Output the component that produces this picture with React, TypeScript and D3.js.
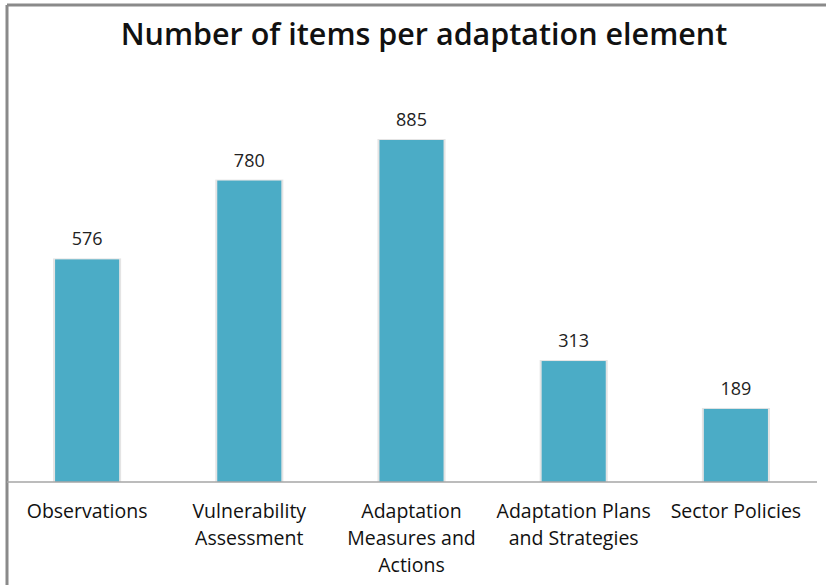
import React from 'react';
import * as d3 from 'd3';

const categories = [
  'Observations',
  'Vulnerability Assessment',
  'Adaptation Measures and Actions',
  'Adaptation Plans and Strategies',
  'Sector Policies',
];
// how each category label wraps under the axis
const categoryLines = [
  ['Observations'],
  ['Vulnerability', 'Assessment'],
  ['Adaptation', 'Measures and', 'Actions'],
  ['Adaptation Plans', 'and Strategies'],
  ['Sector Policies'],
];
const itemCounts = [576, 780, 885, 313, 189];

const title = 'Number of items per adaptation element';

const width = 826;
const height = 585;
const baseline = 482;

const App: React.FC = () => {
  const x = d3.scaleBand<string>()
    .domain(categories)
    .range([6, 817])
    .paddingInner(0.605)
    .paddingOuter(0.3025);

  const y = d3.scaleLinear()
    .domain([0, d3.max(itemCounts) || 0])
    .range([baseline, 140]);

  const font = '"Open Sans", "DejaVu Sans", sans-serif';

  return (
    <svg
      width={width}
      height={height}
      style={{ position: 'absolute', left: 0, top: 0, background: '#fff' }}
      fontFamily={font}
    >
      {/* frame, only top and left are visible */}
      <line x1={7} x2={width} y1={5} y2={5} stroke="#8a8a8a" strokeWidth={3} />
      <line x1={7} x2={7} y1={5} y2={height} stroke="#8a8a8a" strokeWidth={3} />

      <text x={424} y={45} textAnchor="middle" fontSize={30.5} fontWeight={600} fill="#111">
        {title}
      </text>

      {categories.map((c, i) => {
        const bx = x(c) || 0;
        const top = y(itemCounts[i]);
        return (
          <g key={c}>
            <rect x={bx - 2} y={top - 1} width={x.bandwidth() + 4} height={baseline - top + 1} fill="#e4e4e4" />
            <rect x={bx} y={top} width={x.bandwidth()} height={baseline - top} fill="#4bacc6" />
            <text x={bx + x.bandwidth() / 2} y={top - 14} textAnchor="middle" fontSize={18} fill="#222">
              {itemCounts[i]}
            </text>
            {categoryLines[i].map((line, j) => (
              <text
                key={j}
                x={bx + x.bandwidth() / 2}
                y={518 + j * 27}
                textAnchor="middle"
                fontSize={19.5}
                fill="#111"
              >
                {line}
              </text>
            ))}
          </g>
        );
      })}

      <line x1={7} x2={817} y1={baseline} y2={baseline} stroke="#a6a6a6" strokeWidth={1.5} />
    </svg>
  );
};

export default App;
